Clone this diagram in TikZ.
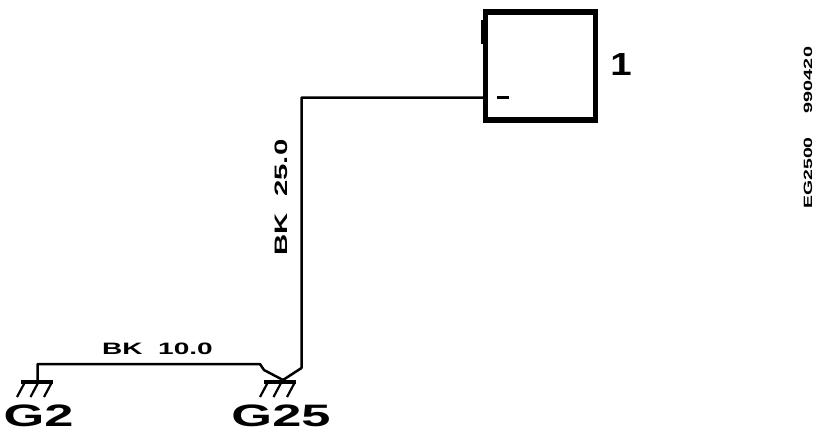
\documentclass[tikz,border=0pt]{standalone}
\usepackage{fontspec}
\setmainfont{Liberation Sans}
\begin{document}
\begin{tikzpicture}[x=1pt,y=-1pt,
  wire/.style={draw=black,line width=2.5pt,line join=round},
  grbar/.style={draw=black,line width=4pt},
  grtick/.style={draw=black,line width=2.2pt},
  biglab/.style={inner sep=0pt,text=black,font=\bfseries\fontsize{31}{31}\selectfont,xscale=1.69},
  wirelab/.style={inner sep=0pt,text=black,font=\bfseries\fontsize{16.5}{16.5}\selectfont,xscale=1.7},
  sidelab/.style={inner sep=0pt,text=black,font=\bfseries\fontsize{12}{12}\selectfont}]
\useasboundingbox (0,0) rectangle (832,440);
\fill[white] (0,0) rectangle (832,440);
% component box
\node[draw=black,line width=5.5pt,minimum width=110pt,minimum height=108pt,inner sep=0pt,anchor=north west] (box) at (482.7,9.3) {};
\fill[black] (481,20) rectangle (484,44);
\node[inner sep=0pt,font=\bfseries\fontsize{32}{32}\selectfont,xscale=1.2] (num) at (621,64) {1};
\node[inner sep=0pt,minimum width=12pt,minimum height=3pt,fill=black] (minus) at (503,97) {};
\coordinate (pin) at (484,97.5);
\coordinate (bend) at (301.5,97.5);
\coordinate (g25top) at (283,380);
\coordinate (j) at (301.5,368);
% grounds
\coordinate (g2a) at (37.5,364);
\coordinate (g2b) at (37.5,381);
\coordinate (g2l) at (21,382);
\coordinate (g2r) at (53,382);
\coordinate (g25l) at (264,382);
\coordinate (g25r) at (296,382);
\coordinate (h) at (260,364);
\coordinate (h2) at (264,370);
\draw[wire] (pin) -- (bend) -- (j) -- (g25top);
\draw[wire] (g2b) -- (g2a) -- (h) -- (h2) -- (g25top);
\draw[grbar] (g2l) -- (g2r);
\draw[grbar] (g25l) -- (g25r);
\foreach \x in {0,13.5,27}{
  \draw[grtick] (24.5+\x,383) -- (17+\x,397);
  \draw[grtick] (267.5+\x,383) -- (260+\x,397);
}
% labels
\node[biglab] (g2) at (38.5,416) {G2};
\node[biglab] (g25) at (281,416) {G25};
\node[wirelab] (w1) at (157.5,349) {BK\ \ 10.0};
\node[inner sep=0pt,text=black,font=\bfseries\fontsize{18}{18}\selectfont,rotate=90,xscale=1.63] (w2) at (281,197.5) {BK\ \ 25.0};
\node[sidelab,rotate=90,xscale=1.65] (s1) at (808,80) {990420};
\node[sidelab,rotate=90,xscale=1.62] (s2) at (808,173) {EG2500};
\end{tikzpicture}
\end{document}
